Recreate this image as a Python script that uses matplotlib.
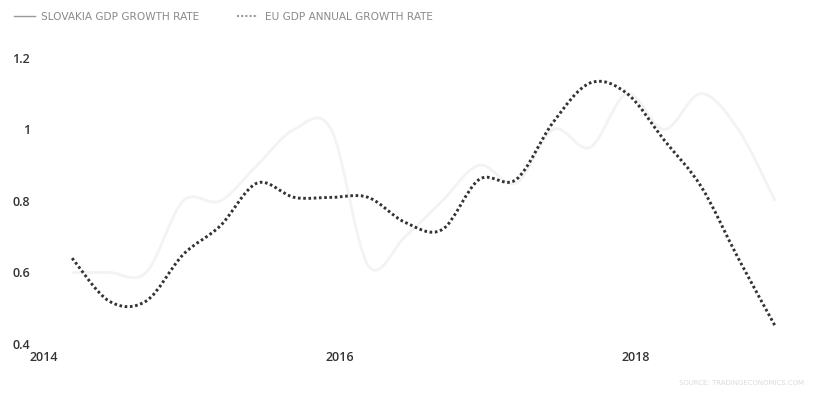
import matplotlib
matplotlib.use('Agg')
import matplotlib.pyplot as plt
from matplotlib.path import Path
from matplotlib.patches import PathPatch
from matplotlib.lines import Line2D
import numpy as np

eu_dark = '#333333'
sk_light = '#f3f3f3'
label_grey = '#8a8a8a'

# quarterly points, 2014 Q1 .. 2018 Q4 (x in decimal years)
quarters = [2014.19 + 0.25 * i for i in range(20)]
eu_growth = [0.64, 0.52, 0.52, 0.65, 0.73, 0.85, 0.81, 0.81, 0.81, 0.74,
             0.72, 0.86, 0.86, 1.02, 1.13, 1.10, 0.97, 0.84, 0.64, 0.45]
sk_growth = [0.60, 0.60, 0.60, 0.80, 0.80, 0.90, 1.00, 1.00, 0.62, 0.70,
             0.80, 0.90, 0.85, 1.00, 0.95, 1.10, 1.00, 1.10, 1.00, 0.80]
year_ticks = [2014, 2016, 2018]
value_ticks = [0.4, 0.6, 0.8, 1.0, 1.2]


def smooth_path(x, y):
    """Catmull-Rom curve through the points as cubic bezier segments."""
    pts = np.column_stack([x, y])
    verts = [pts[0]]
    codes = [Path.MOVETO]
    n = len(pts)
    for i in range(n - 1):
        p0 = pts[max(i - 1, 0)]
        p1 = pts[i]
        p2 = pts[i + 1]
        p3 = pts[min(i + 2, n - 1)]
        verts += [p1 + (p2 - p0) / 6.0, p2 - (p3 - p1) / 6.0, p2]
        codes += [Path.CURVE4] * 3
    return Path(verts, codes)


fig = plt.figure(figsize=(8.16, 4.01), dpi=100)
ax = fig.add_axes([44 / 816, 1 - 344 / 401, (790 - 44) / 816, (344 - 40) / 401])

ax.add_patch(PathPatch(smooth_path(quarters, sk_growth), fill=False,
                       edgecolor=sk_light, lw=2))
ax.add_patch(PathPatch(smooth_path(quarters, eu_growth), fill=False,
                       edgecolor=eu_dark, lw=2.1, linestyle=(0, (0.9, 0.9))))

ax.set_xlim(2014, 2019.04)
ax.set_ylim(0.4, 1.25)
ax.set_xticks(year_ticks)
ax.set_xticklabels([str(y) for y in year_ticks])
ax.set_yticks(value_ticks)
ax.set_yticklabels(['%g' % v for v in value_ticks])
for s in ax.spines.values():
    s.set_visible(False)
ax.tick_params(length=0, labelsize=9, colors='#333333')
ax.tick_params(axis='y', pad=10)
ax.tick_params(axis='x', pad=5)
for lab in ax.get_xticklabels() + ax.get_yticklabels():
    lab.set_fontfamily('Open Sans')
    lab.set_fontweight('semibold')

handles = [Line2D([], [], color='#999999', lw=1),
           Line2D([], [], color='#999999', lw=1.5, linestyle=(0, (1, 1)))]
fig.legend(handles, ['SLOVAKIA GDP GROWTH RATE', 'EU GDP ANNUAL GROWTH RATE'],
           loc='upper left', bbox_to_anchor=(0.005, 0.995), ncol=2, frameon=False,
           handlelength=2.0, handletextpad=0.6, columnspacing=3.6,
           prop={'family': 'DejaVu Sans', 'size': 7.6}, labelcolor=label_grey)

fig.text(0.985, 0.045, 'SOURCE: TRADINGECONOMICS.COM', ha='right', va='center',
         fontsize=5, color='#dcdcdc')

fig.savefig('out.png', dpi=100)
